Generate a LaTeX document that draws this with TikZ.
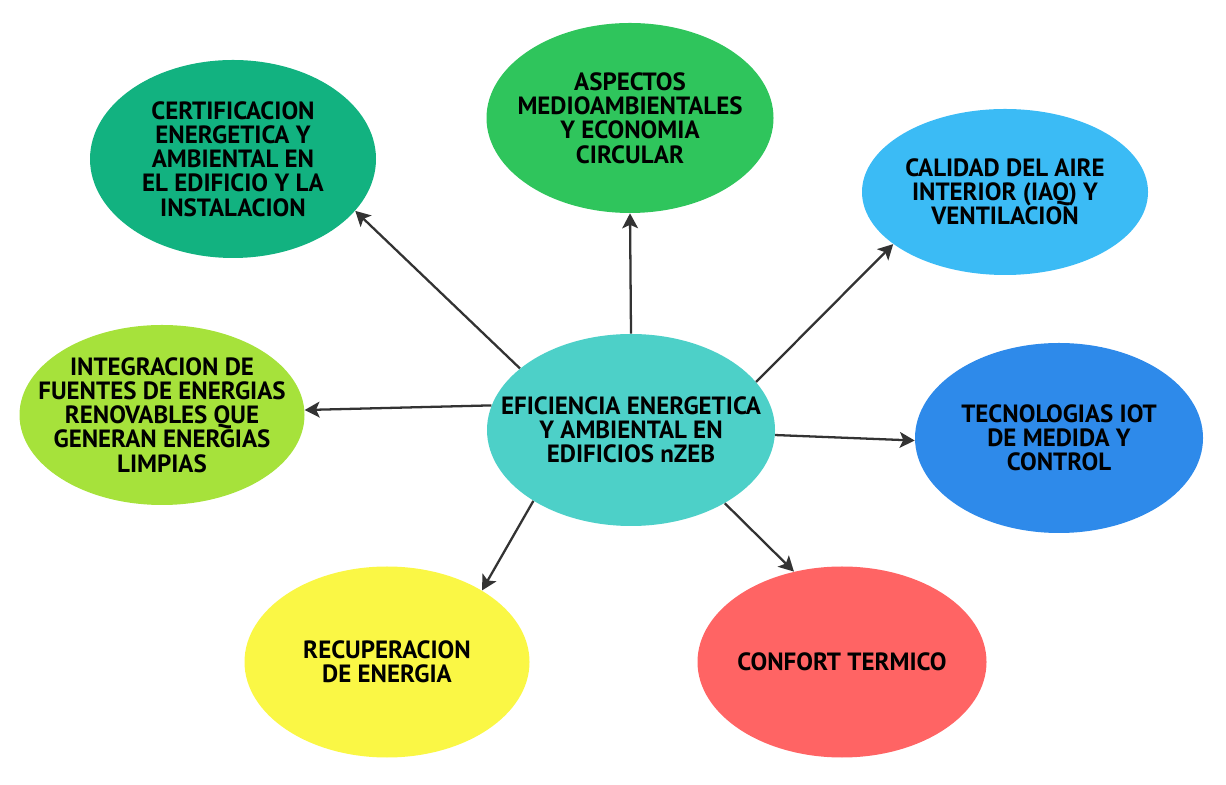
\documentclass[tikz,border=0pt]{standalone}
\usepackage{fontspec}
\setmainfont{PT Sans}
\usetikzlibrary{arrows.meta, shapes.geometric}
\definecolor{cteal}{RGB}{77,208,200}
\definecolor{cjade}{RGB}{18,178,128}
\definecolor{cgreen}{RGB}{47,197,92}
\definecolor{csky}{RGB}{59,187,245}
\definecolor{clime}{RGB}{166,226,59}
\definecolor{cblue}{RGB}{46,138,234}
\definecolor{cyellow}{RGB}{250,247,69}
\definecolor{cred}{RGB}{255,100,100}
\definecolor{carrow}{RGB}{51,51,51}

\begin{document}
\begin{tikzpicture}[
	bubble/.style={ellipse, inner sep=-1.2cm, align=center, font=\fontsize{14.2}{13.8}\selectfont\bfseries},
	link/.style={draw=carrow, line width=1.3pt, -{Stealth[length=8.5pt,width=9pt,inset=2pt]}}]
	\useasboundingbox (0,0) rectangle (24.52,15.68);
	\node[bubble, fill=cteal, minimum width=5.76cm, minimum height=3.84cm] (core) at (12.62,7.08) {EFICIENCIA ENERGETICA\\Y AMBIENTAL EN\\EDIFICIOS nZEB};
	\node[bubble, fill=cjade, minimum width=5.72cm, minimum height=3.96cm] (cert) at (4.66,12.5) {CERTIFICACION\\ENERGETICA Y\\AMBIENTAL EN\\EL EDIFICIO Y LA\\INSTALACION};
	\node[bubble, fill=cgreen, minimum width=5.74cm, minimum height=3.80cm] (medio) at (12.60,13.32) {ASPECTOS\\MEDIOAMBIENTALES\\Y ECONOMIA\\CIRCULAR};
	\node[bubble, fill=csky, minimum width=5.72cm, minimum height=3.32cm] (aire) at (20.10,11.84) {CALIDAD DEL AIRE\\INTERIOR (IAQ) Y\\VENTILACION};
	\node[bubble, fill=clime, minimum width=5.70cm, minimum height=3.60cm] (renov) at (3.24,7.38) {INTEGRACION DE\\FUENTES DE ENERGIAS\\RENOVABLES QUE\\GENERAN ENERGIAS\\LIMPIAS};
	\node[bubble, fill=cblue, minimum width=5.76cm, minimum height=3.80cm] (iot) at (21.18,6.92) {TECNOLOGIAS IOT\\DE MEDIDA Y\\CONTROL};
	\node[bubble, fill=cyellow, minimum width=5.70cm, minimum height=3.82cm] (recup) at (7.74,2.44) {RECUPERACION\\DE ENERGIA};
	\node[bubble, fill=cred, minimum width=5.78cm, minimum height=3.82cm] (confort) at (16.84,2.44) {CONFORT TERMICO};
	\draw[link] (core.90) -- (medio.-90);
	\draw[link] (core.151) -- (cert.-23);
	\draw[link] (core.21) -- (aire.-155);
	\draw[link] (core.170) -- (renov.2);
	\draw[link] (core.-2) -- (iot.181);
	\draw[link] (core.216) -- (recup.37);
	\draw[link] (core.-38) -- (confort.118);
\end{tikzpicture}
\end{document}
